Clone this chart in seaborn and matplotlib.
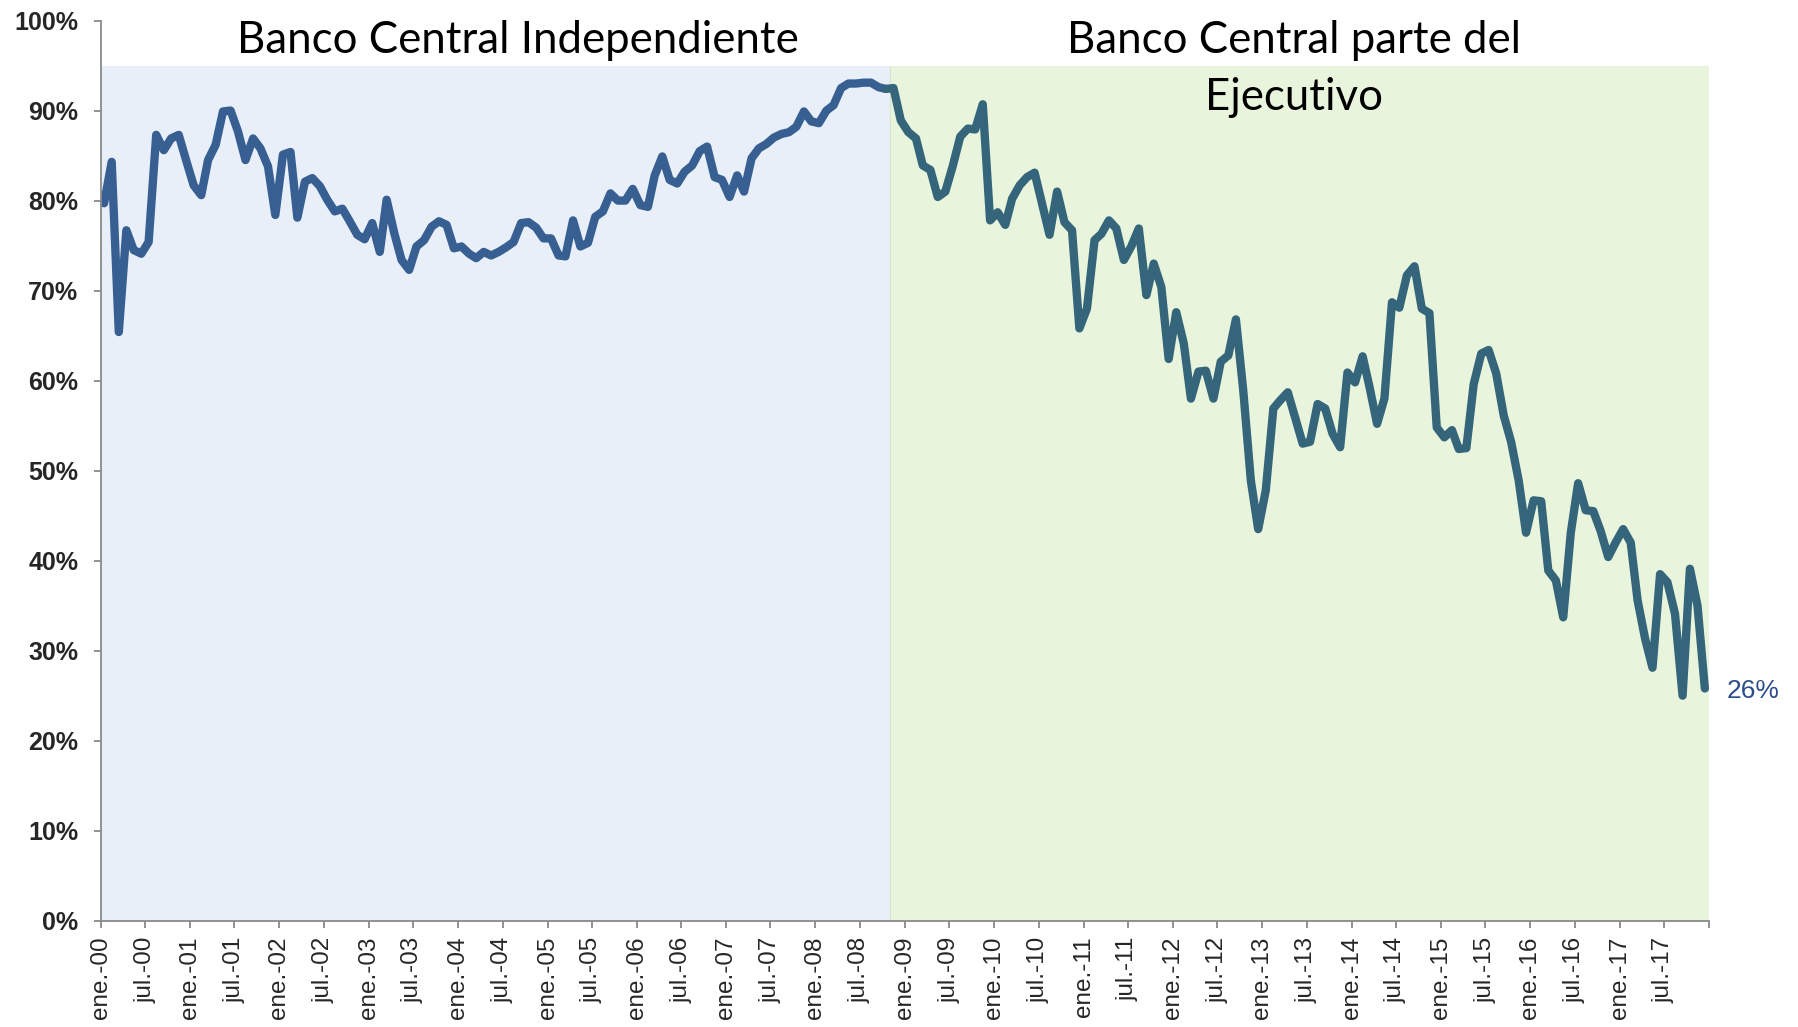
#!/usr/bin/env python3
"""
Participación mensual (%) 2000-2017, con el cambio de régimen del Banco Central.
Guarda out.png
"""
import pandas as pd
import seaborn as sns
import matplotlib.pyplot as plt

# datos mensuales ene.-00 .. dic.-17 (%)
participacion = [
    79.7, 84.3, 65.4, 76.7, 74.5, 74.1, 75.4, 87.3, 85.6, 86.9, 87.3, 84.5,
    81.7, 80.6, 84.5, 86.2, 89.9, 90.0, 87.7, 84.5, 86.9, 85.8, 83.8, 78.4,
    85.1, 85.4, 78.1, 82.1, 82.5, 81.6, 80.1, 78.8, 79.1, 77.7, 76.2, 75.7,
    77.5, 74.3, 80.1, 76.4, 73.4, 72.3, 74.9, 75.6, 77.1, 77.7, 77.3, 74.7,
    74.9, 74.1, 73.6, 74.3, 73.9, 74.3, 74.8, 75.4, 77.5, 77.6, 77.0, 75.8,
    75.8, 73.9, 73.8, 77.8, 74.9, 75.3, 78.2, 78.8, 80.8, 80.0, 80.0, 81.3,
    79.5, 79.3, 82.8, 84.9, 82.3, 81.9, 83.2, 83.9, 85.5, 86.0, 82.6, 82.3,
    80.4, 82.8, 81.0, 84.7, 85.8, 86.3, 87.0, 87.4, 87.6, 88.2, 89.9, 88.8,
    88.6, 90.0, 90.6, 92.5, 93.0, 93.0, 93.1, 93.1, 92.6, 92.4, 92.5, 88.9,
    87.6, 86.9, 83.9, 83.4, 80.4, 81.0, 83.8, 87.1, 88.0, 87.9, 90.7, 77.8,
    78.7, 77.3, 80.2, 81.7, 82.6, 83.1, 79.7, 76.2, 81.0, 77.6, 76.7, 65.8,
    68.0, 75.6, 76.3, 77.8, 76.9, 73.4, 74.9, 76.9, 69.5, 73.0, 70.4, 62.4,
    67.6, 64.1, 58.0, 61.0, 61.1, 58.0, 62.1, 62.8, 66.8, 58.9, 48.9, 43.5,
    47.8, 56.9, 57.8, 58.7, 55.9, 53.0, 53.2, 57.4, 56.9, 54.1, 52.6, 60.9,
    59.8, 62.7, 59.3, 55.2, 58.0, 68.7, 68.1, 71.7, 72.7, 68.0, 67.5, 54.8,
    53.7, 54.5, 52.4, 52.5, 59.6, 63.0, 63.4, 60.8, 56.1, 53.2, 48.9, 43.1,
    46.7, 46.6, 38.9, 37.8, 33.7, 43.1, 48.6, 45.6, 45.5, 43.3, 40.4, 42.0,
    43.5, 42.0, 35.6, 31.3, 28.1, 38.5, 37.6, 34.1, 25.0, 39.1, 35.0, 25.8,
]
inicio = "2000-01"
corte = "2008-11"      # paso del BC al Ejecutivo
fin = "2018-01"
techo = 95             # altura del sombreado (%)
periodos = ["Banco Central Independiente", "Banco Central parte del", "Ejecutivo"]
meses_tick = {1: "ene.", 7: "jul."}

sns.set_theme(style="ticks")
plt.rcParams['font.family'] = ['Liberation Sans', 'DejaVu Sans']

# fechas a mitad de mes
fechas = pd.date_range(inicio, periods=len(participacion), freq="MS") + pd.Timedelta(days=14)
df = pd.DataFrame({"fecha": fechas, "valor": participacion})
n_corte = (pd.Period(corte, "M") - pd.Period(inicio, "M")).n
indep = df.iloc[:n_corte].assign(periodo="indep")
ejec = df.iloc[n_corte - 1:].assign(periodo="ejec")
plot_df = pd.concat([indep, ejec], ignore_index=True)

fig, ax = plt.subplots(figsize=(17.98, 10.27))
fig.subplots_adjust(left=0.056, right=0.9505, bottom=0.1035, top=0.98)

ax.axvspan(pd.Timestamp(inicio), pd.Timestamp(corte), ymax=techo / 100,
           color="#E9EFF8", lw=0, zorder=0)
ax.axvspan(pd.Timestamp(corte), pd.Timestamp(fin), ymax=techo / 100,
           color="#E8F5DC", lw=0, zorder=0)
ax.axvline(pd.Timestamp(corte), ymax=techo / 100, color="#D3E5CB", lw=0.8, zorder=0)

sns.lineplot(data=plot_df, x="fecha", y="valor", hue="periodo", estimator=None,
             sort=False, palette={"indep": "#375F92", "ejec": "#35657A"},
             linewidth=6, legend=False, ax=ax,
             solid_joinstyle="round", solid_capstyle="round")

ax.annotate(f"{participacion[-1]:.0f}%", xy=(fechas[-1], participacion[-1]),
            xytext=(16, -2), textcoords="offset points", ha="left", va="center",
            color="#2B4C8C", fontsize=19, annotation_clip=False)

tit = dict(family=["Lato", "DejaVu Sans"], fontsize=31.5, color="black",
           ha="center", va="baseline", transform=ax.transAxes)
ax.text(0.2593, 0.9638, periodos[0], **tit)
ax.text(0.742, 0.9638, periodos[1], **tit)
ax.text(0.742, 0.9008, periodos[2], **tit)

ax.set_ylim(0, 100)
ax.set_yticks(range(0, 101, 10))
ax.set_yticklabels([f"{v}%" for v in range(0, 101, 10)], fontsize=18, fontweight="bold")
ticks = pd.date_range(pd.Timestamp(inicio), pd.Timestamp(fin), freq="6MS")
ax.set_xticks(ticks)
ax.set_xticklabels([f"{meses_tick[d.month]}-{d.year % 100:02d}" if d < ticks[-1] else ""
                    for d in ticks], rotation=90, fontsize=17.5)
ax.set_xlim(pd.Timestamp(inicio), pd.Timestamp(fin))
ax.set_xlabel("")
ax.set_ylabel("")

for s in ["top", "right"]:
    ax.spines[s].set_visible(False)
for s in ["left", "bottom"]:
    ax.spines[s].set_color("#898989")
    ax.spines[s].set_linewidth(1.3)
ax.tick_params(axis="both", length=5, width=1.3, color="#898989")
ax.tick_params(axis="y", pad=11)
ax.tick_params(axis="x", pad=6.5)

fig.savefig("out.png", dpi=100)
